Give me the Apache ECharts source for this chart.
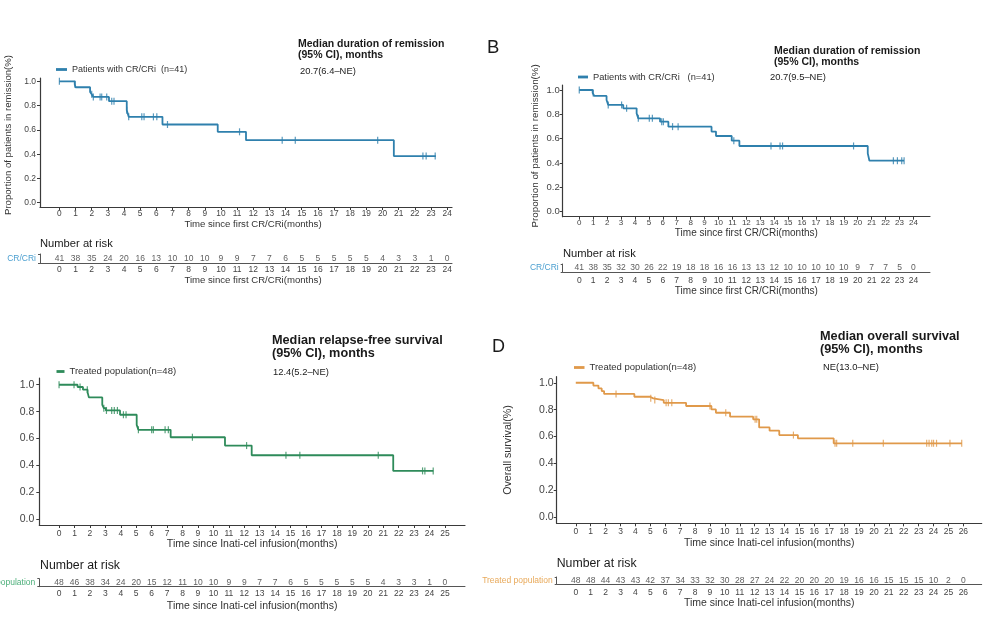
<!DOCTYPE html>
<html><head><meta charset="utf-8">
<script src="https://cdn.jsdelivr.net/npm/echarts@6/dist/echarts.min.js"></script>
<style>html,body{margin:0;padding:0;background:#fff}#c{width:1002px;height:619px}</style>
</head><body><div id="c"></div>
<script>
// ---------- Panel A : duration of remission ----------
const stepsA = [[0,1],[0.95,0.976],[1.0,0.951],[1.9,0.912],[2.0,0.893],[2.1,0.871],[3.07,0.836],[4.17,0.762],[4.29,0.707],[6.38,0.644],[9.8,0.584],[11.55,0.515],[20.7,0.384],[23.3,0.384]];
const censorA = [0,0.97,2.0,2.1,2.52,2.62,2.93,3.24,3.38,4.17,4.29,5.1,5.24,5.82,6.03,6.69,11.15,13.79,14.6,19.7,22.5,22.7,23.26];
const monthsA = [0,1,2,3,4,5,6,7,8,9,10,11,12,13,14,15,16,17,18,19,20,21,22,23,24];
const riskA = [41,38,35,24,20,16,13,10,10,10,9,9,7,7,6,5,5,5,5,5,4,3,3,1,0];

// ---------- Panel B : duration of remission ----------
const stepsB = [[0,1],[0.96,0.976],[1.08,0.951],[1.96,0.918],[2.08,0.877],[3.16,0.849],[4.12,0.808],[4.24,0.767],[5.8,0.74],[6.4,0.699],[9.5,0.658],[9.82,0.622],[10.95,0.584],[11.5,0.54],[20.72,0.479],[20.84,0.419],[23.33,0.419]];
const censorB = [0,1.0,2.08,3.04,3.4,4.24,5.03,5.25,5.92,6.04,6.7,7.1,11.1,13.77,14.42,14.6,19.7,22.56,22.85,23.16,23.33];
const monthsB = [0,1,2,3,4,5,6,7,8,9,10,11,12,13,14,15,16,17,18,19,20,21,22,23,24];
const riskB = [41,38,35,32,30,26,22,19,18,18,16,16,13,13,12,10,10,10,10,10,9,7,7,5,0];

// ---------- Panel C : relapse-free survival ----------
const stepsC = [[0,1],[1.2,0.983],[1.55,0.963],[1.85,0.943],[1.93,0.906],[2.8,0.851],[2.9,0.826],[3.03,0.809],[3.95,0.777],[5.03,0.702],[5.14,0.665],[7.23,0.61],[10.75,0.548],[12.48,0.476],[21.65,0.36],[24.25,0.36]];
const censorC = [0,0.97,1.36,1.83,2.9,3.07,3.41,3.58,3.78,4.17,4.34,5.14,6.0,6.11,6.87,7.08,8.64,12.15,14.7,15.6,20.68,23.55,23.7,24.24];
const monthsC = [0,1,2,3,4,5,6,7,8,9,10,11,12,13,14,15,16,17,18,19,20,21,22,23,24,25];
const riskC = [48,46,38,34,24,20,15,12,11,10,10,9,9,7,7,6,5,5,5,5,5,4,3,3,1,0];

// ---------- Panel D : overall survival ----------
const stepsD = [[0,1],[1.18,0.979],[1.52,0.958],[1.74,0.938],[1.9,0.917],[3.93,0.896],[4.98,0.884],[5.2,0.871],[5.9,0.851],[7.4,0.827],[9.1,0.802],[9.4,0.777],[10.35,0.748],[11.9,0.728],[12.3,0.668],[13.0,0.644],[13.65,0.611],[14.9,0.587],[17.3,0.55],[25.9,0.55]];
const censorD = [2.7,5.03,5.3,6.06,6.21,6.44,9.0,10.06,12.03,12.14,14.6,17.39,17.5,18.58,20.63,23.54,23.7,23.88,24.0,24.2,25.1,25.89];
const monthsD = [0,1,2,3,4,5,6,7,8,9,10,11,12,13,14,15,16,17,18,19,20,21,22,23,24,25,26];
const riskD = [48,48,44,43,43,42,37,34,33,32,30,28,27,24,22,20,20,20,19,16,16,15,15,15,10,2,0];

const yTicks = [0,0.2,0.4,0.6,0.8,1.0];

const FONT = "'Liberation Sans', Arial, sans-serif";
const AX = '#3a3a3a', TXT = '#333';
const BLUE = '#2f80ad', GREEN = '#2e8b5a', ORANGE = '#e0994a';

function survAt(steps, t){ let s = steps[0][1]; for (const p of steps){ if (p[0] <= t) s = p[1]; } return s; }

const panels = [
  {steps: stepsA, censor: censorA, months: monthsA, risk: riskA, color: BLUE, rowLabel: 'CR/CRi', rowColor: '#4a9fd0',
   legend: 'Patients with CR/CRi  (n=41)', main: {left: 40, top: 78, width: 412, height: 129}, risk_g: {left: 40, top: 254, width: 412, height: 9},
   xr: [-1.2, 24.3], yr: [-0.035, 1.027], xName: 'Time since first CR/CRi(months)', yName: 'Proportion of patients in remission(%)',
   xfs: 8.3, yfs: 8.5, xMargin: 3, yMargin: 4, xGap: 12, xPad: 14, yGap: 26.5, yPad: 15, nfs: 9.6, yNfs: 9.6,
   rMargin: 3, rGap: 12, rPad: 14},
  {steps: stepsB, censor: censorB, months: monthsB, risk: riskB, color: BLUE, rowLabel: 'CR/CRi', rowColor: '#4a9fd0',
   legend: 'Patients with CR/CRi   (n=41)', main: {left: 562.7, top: 85, width: 367.3, height: 131.7}, risk_g: {left: 562.7, top: 264, width: 367.3, height: 8},
   xr: [-1.19, 25.19], yr: [-0.041, 1.041], xName: 'Time since first CR/CRi(months)', yName: 'Proportion of patients in remission(%)',
   xfs: 8, yfs: 9.5, xMargin: 2.5, yMargin: 3, xGap: 11.5, xPad: 0, yGap: 22, yPad: 10, nfs: 10, yNfs: 9.8,
   rMargin: 4.5, rGap: 13.5, rPad: 0},
  {steps: stepsC, censor: censorC, months: monthsC, risk: riskC, color: GREEN, rowLabel: 'Treated population', rowColor: '#4caf7a',
   legend: 'Treated population(n=48)', main: {left: 39.3, top: 378, width: 425.7, height: 147}, risk_g: {left: 39.3, top: 578.7, width: 425.7, height: 8},
   xr: [-1.28, 26.3], yr: [-0.042, 1.05], xName: 'Time since Inati-cel infusion(months)', yName: '',
   xfs: 8.5, yfs: 10.5, xMargin: 4, yMargin: 5, xGap: 14, xPad: 0, yGap: 30, yPad: 0, nfs: 10.5, yNfs: 10,
   rMargin: 2.5, rGap: 14, rPad: 0},
  {steps: stepsD, censor: censorD, months: monthsD, risk: riskD, color: ORANGE, rowLabel: 'Treated population', rowColor: '#e8a95a',
   legend: 'Treated population(n=48) ', main: {left: 556.7, top: 376.7, width: 425, height: 146.6}, risk_g: {left: 556.7, top: 577, width: 425, height: 7},
   xr: [-1.28, 27.23], yr: [-0.045, 1.045], xName: 'Time since Inati-cel infusion(months)', yName: 'Overall survival(%)',
   xfs: 8.5, yfs: 10.5, xMargin: 4.5, yMargin: 3, xGap: 14.5, xPad: 0, yGap: 43.5, yPad: 0, nfs: 10.5, yNfs: 10.7,
   rMargin: 4.3, rGap: 13.5, rPad: 0}
];

const grid = [], xAxis = [], yAxis = [], series = [];
panels.forEach((p, i) => {
  const gm = i * 2, gr = i * 2 + 1;
  grid.push(Object.assign({containLabel: false, outerBoundsMode: 'none'}, p.main));
  grid.push(Object.assign({containLabel: false, outerBoundsMode: 'none'}, p.risk_g));
  // main x axis
  xAxis.push({type: 'value', gridIndex: gm, min: p.xr[0], max: p.xr[1],
    axisLine: {show: true, onZero: false, lineStyle: {color: AX, width: 1.2}},
    axisTick: {show: true, length: 3, customValues: p.months, lineStyle: {color: AX}},
    axisLabel: {customValues: p.months, fontSize: p.xfs, lineHeight: p.xfs, color: '#444', margin: p.xMargin, fontFamily: FONT},
    splitLine: {show: false},
    name: p.xName, nameLocation: 'middle', nameGap: p.xGap,
    nameTextStyle: {fontSize: p.nfs, color: TXT, fontFamily: FONT, padding: [0, 0, 0, p.xPad]}});
  // risk x axis
  xAxis.push({type: 'value', gridIndex: gr, min: p.xr[0], max: p.xr[1],
    axisLine: {show: true, onZero: false, lineStyle: {color: '#555', width: 1}},
    axisTick: {show: false},
    axisLabel: {customValues: p.months, fontSize: 8.5, lineHeight: 8, color: '#444', margin: p.rMargin, fontFamily: FONT},
    splitLine: {show: false},
    name: p.xName, nameLocation: 'middle', nameGap: p.rGap,
    nameTextStyle: {fontSize: p.nfs, color: TXT, fontFamily: FONT, padding: [0, 0, 0, p.rPad]}});
  // main y axis
  yAxis.push({type: 'value', gridIndex: gm, min: p.yr[0], max: p.yr[1],
    axisLine: {show: true, onZero: false, lineStyle: {color: AX, width: 1.2}},
    axisTick: {show: true, length: 3, customValues: yTicks, lineStyle: {color: AX}},
    axisLabel: {customValues: yTicks, formatter: v => v.toFixed(1), fontSize: p.yfs, color: '#444', margin: p.yMargin, fontFamily: FONT},
    splitLine: {show: false},
    name: p.yName, nameLocation: 'middle', nameGap: p.yGap,
    nameTextStyle: {fontSize: p.yNfs, color: TXT, fontFamily: FONT, padding: [0, 0, 0, p.yPad]}});
  // risk y axis (row label)
  yAxis.push({type: 'category', gridIndex: gr, data: [p.rowLabel],
    axisLine: {show: true, onZero: false, lineStyle: {color: '#555'}},
    axisTick: {show: true, length: 2, lineStyle: {color: '#555'}},
    axisLabel: {fontSize: 8.5, color: p.rowColor, margin: 4, fontFamily: FONT}});

  series.push({type: 'line', name: p.legend, xAxisIndex: gm, yAxisIndex: gm, data: p.steps, step: 'end',
    symbol: 'none', lineStyle: {color: p.color, width: 1.8}, itemStyle: {color: p.color}, animation: false, z: 3});
  series.push({type: 'scatter', name: 'censored ' + i, xAxisIndex: gm, yAxisIndex: gm,
    data: p.censor.map(t => [t, survAt(p.steps, t)]), symbol: 'rect', symbolSize: [1.2, 7],
    itemStyle: {color: p.color}, animation: false, z: 4});
  series.push({type: 'scatter', name: 'risk ' + i, xAxisIndex: gr, yAxisIndex: gr,
    data: p.risk.map((n, k) => [p.months[k], p.rowLabel, n]), symbolSize: 1,
    itemStyle: {color: 'rgba(0,0,0,0)'},
    label: {show: true, position: 'inside', formatter: q => q.value[2], fontSize: 8.5, color: '#333', fontFamily: FONT},
    animation: false});
});

function t(text, left, top, fs, bold, lh){
  return {text: text, left: left, top: top, padding: 0,
    textStyle: {fontSize: fs, fontWeight: bold ? 'bold' : 'normal', color: '#1a1a1a', fontFamily: FONT, lineHeight: lh || fs}};
}
const title = [
  t('Median duration of remission\n(95% CI), months', 298, 38.5, 10.5, true, 11),
  t('20.7(6.4–NE)', 300, 66.7, 9.4, false),
  t('Number at risk', 40, 238, 11.2, false),
  t('B', 487, 39, 18.5, false),
  t('Median duration of remission\n(95% CI), months', 774, 45.2, 10.5, true, 11),
  t('20.7(9.5–NE)', 770, 72.7, 9.4, false),
  t('Number at risk', 563, 248.3, 11.2, false),
  t('Median relapse-free survival\n(95% CI), months', 272, 334.4, 12.7, true, 12.6),
  t('12.4(5.2–NE)', 273, 367.7, 9.4, false),
  t('Number at risk', 40, 559.5, 12.3, false),
  t('D', 492, 338.5, 18, false),
  t('Median overall survival\n(95% CI), months', 820, 329.5, 12.7, true, 13.3),
  t('NE(13.0–NE)', 823, 362.7, 9.4, false),
  t('Number at risk', 556.7, 557.5, 12.3, false)
];

function lg(p, left, top, w, fs){
  return {left: left, top: top, padding: 0, selectedMode: false, icon: 'rect', itemWidth: w, itemHeight: 2.8,
    data: [{name: p.legend, itemStyle: {color: p.color}}],
    textStyle: {fontSize: fs, color: '#333', fontFamily: FONT}};
}
const legend = [
  lg(panels[0], 56, 65, 11, 9),
  lg(panels[1], 578, 72.5, 10, 9.3),
  lg(panels[2], 56.5, 366.5, 8, 9.5),
  lg(panels[3], 574, 362.5, 10.5, 9.5)
];

const chart = echarts.init(document.getElementById('c'), null, {renderer: 'canvas'});
chart.setOption({backgroundColor: '#fff', animation: false, textStyle: {fontFamily: FONT},
  title: title, legend: legend, grid: grid, xAxis: xAxis, yAxis: yAxis, series: series});
</script></body></html>
